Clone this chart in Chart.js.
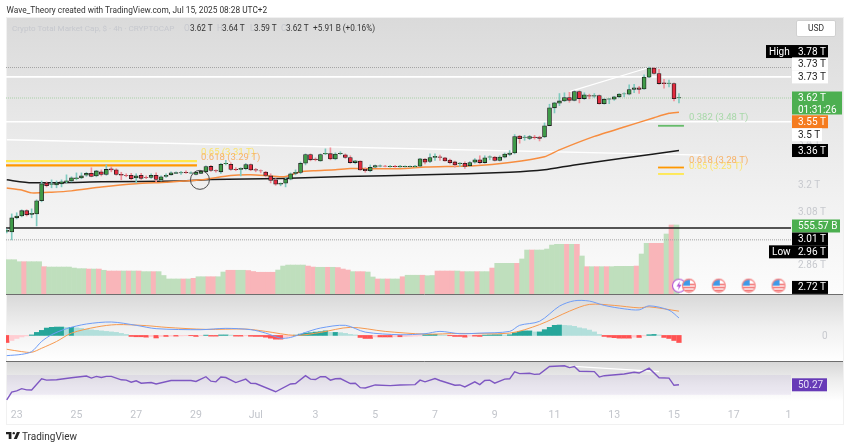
<!DOCTYPE html>
<html>
<head>
<meta charset="utf-8">
<title>Crypto Total Market Cap</title>
<script src="https://cdn.jsdelivr.net/npm/chart.js@4"></script>
<style>
  html, body { margin: 0; padding: 0; background: #fff; width: 850px; height: 447px; overflow: hidden; }
  body { font-family: Roboto, "Liberation Sans", sans-serif; position: relative; filter: blur(0.35px); }
  #chart { position: absolute; left: 0; top: 0; }
  .txt { position: absolute; white-space: nowrap; font-size: 9.5px; line-height: 12px; }
  #byline { left: 6.5px; top: 4px; color: #333; font-size: 8.3px; }
  #legend span { position: absolute; top: 22px; white-space: nowrap; font-size: 8.2px; line-height: 12px; color: #333; }
  #legend .dim { color: #c6c8ce; }
  #usd { left: 796px; top: 20px; width: 38px; height: 15px; line-height: 15px; border: 1px solid #d0d0d0; border-radius: 2px; background: #fff; text-align: center; font-size: 8.5px; color: #333; }
  #brand { left: 22px; top: 431px; font-size: 10px; color: #333; }
  #logo { position: absolute; left: 6px; top: 432px; width: 14px; height: 7px; }
</style>
</head>
<body>
<canvas id="chart" width="850" height="447"></canvas>
<div class="txt" id="byline">Wave_Theory created with TradingView.com, Jul 15, 2025 08:28 UTC+2</div>
<div id="legend">
  <span class="dim" style="left:12px;font-size:8.1px">Crypto Total Market Cap, $ · 4h · CRYPTOCAP</span>
  <span class="dim" style="left:184px">O</span><span style="left:190px">3.62 T</span>
  <span class="dim" style="left:217px">H</span><span style="left:222px">3.64 T</span>
  <span class="dim" style="left:250px">L</span><span style="left:254px">3.59 T</span>
  <span class="dim" style="left:281px">C</span><span style="left:286px">3.62 T</span>
  <span style="left:313px">+5.91 B (+0.16%)</span>
</div>
<div class="txt" id="usd">USD</div>
<svg id="logo" viewBox="0 0 36 18"><path d="M14 0H0v6h7v12h7V0z M28 18H20L28 0h8L28 18z" fill="#222"/><circle cx="20" cy="3" r="3" fill="#222"/></svg>
<div class="txt" id="brand">TradingView</div>
<script>
// 4h candles, index 0 is Jun 23 00:00, values in trillions
const firstIndex = -2;
const opens = [
  2.996,2.993,3.054,3.062,3.085,3.069,3.071,3.129,3.209,3.202,
  3.200,3.205,3.214,3.218,3.228,3.232,3.244,3.253,3.241,3.260,
  3.248,3.274,3.269,3.248,3.244,3.244,3.232,3.244,3.235,3.234,
  3.244,3.223,3.239,3.246,3.253,3.255,3.258,3.254,3.248,3.253,
  3.260,3.285,3.266,3.260,3.298,3.295,3.272,3.271,3.274,3.294,
  3.270,3.265,3.259,3.241,3.223,3.203,3.208,3.226,3.253,3.257,
  3.300,3.341,3.320,3.311,3.344,3.345,3.320,3.345,3.340,3.327,
  3.303,3.310,3.272,3.265,3.281,3.286,3.287,3.284,3.286,3.283,
  3.284,3.284,3.284,3.286,3.319,3.308,3.327,3.330,3.325,3.315,
  3.306,3.298,3.300,3.288,3.305,3.316,3.303,3.328,3.329,3.313,
  3.329,3.341,3.348,3.430,3.423,3.418,3.425,3.425,3.425,3.481,
  3.570,3.593,3.605,3.622,3.608,3.653,3.617,3.633,3.629,3.633,
  3.591,3.614,3.614,3.626,3.641,3.640,3.664,3.672,3.667,3.729,
  3.777,3.748,3.699,3.696,3.695,3.620
];
const highs = [
  3.006,3.071,3.076,3.089,3.089,3.093,3.133,3.218,3.214,3.223,
  3.218,3.223,3.246,3.237,3.255,3.255,3.258,3.279,3.267,3.269,
  3.292,3.283,3.274,3.258,3.251,3.253,3.251,3.253,3.241,3.251,
  3.255,3.241,3.251,3.260,3.260,3.262,3.265,3.260,3.260,3.265,
  3.288,3.290,3.269,3.299,3.313,3.302,3.279,3.279,3.299,3.297,
  3.276,3.269,3.262,3.251,3.228,3.209,3.232,3.255,3.269,3.306,
  3.344,3.344,3.325,3.344,3.368,3.373,3.349,3.354,3.344,3.335,
  3.313,3.311,3.279,3.292,3.292,3.292,3.290,3.290,3.290,3.290,
  3.288,3.288,3.290,3.323,3.322,3.344,3.344,3.338,3.328,3.319,
  3.310,3.303,3.306,3.308,3.322,3.335,3.335,3.335,3.332,3.335,
  3.348,3.360,3.437,3.433,3.433,3.433,3.433,3.429,3.494,3.588,
  3.598,3.643,3.647,3.650,3.657,3.657,3.647,3.640,3.643,3.636,
  3.617,3.618,3.629,3.643,3.647,3.688,3.691,3.681,3.741,3.783,
  3.781,3.770,3.717,3.713,3.699,3.643
];
const lows = [
  2.989,2.960,3.049,3.058,3.062,3.054,3.019,3.124,3.191,3.187,
  3.187,3.191,3.209,3.214,3.223,3.228,3.239,3.237,3.237,3.241,
  3.244,3.260,3.244,3.223,3.237,3.223,3.209,3.225,3.228,3.230,
  3.214,3.218,3.234,3.244,3.251,3.248,3.253,3.251,3.246,3.251,
  3.258,3.262,3.258,3.253,3.292,3.267,3.265,3.241,3.269,3.265,
  3.260,3.255,3.237,3.209,3.198,3.196,3.191,3.223,3.246,3.251,
  3.292,3.311,3.311,3.309,3.340,3.316,3.316,3.340,3.323,3.299,
  3.297,3.267,3.258,3.260,3.279,3.283,3.283,3.281,3.281,3.281,
  3.281,3.281,3.281,3.284,3.297,3.303,3.313,3.313,3.310,3.297,
  3.281,3.285,3.276,3.285,3.300,3.297,3.300,3.316,3.310,3.310,
  3.325,3.335,3.344,3.395,3.409,3.412,3.415,3.406,3.422,3.480,
  3.544,3.581,3.602,3.598,3.605,3.595,3.612,3.616,3.622,3.588,
  3.588,3.591,3.608,3.622,3.626,3.636,3.647,3.643,3.664,3.726,
  3.745,3.691,3.671,3.678,3.605,3.595
];
const closes = [
  3.000,3.054,3.062,3.085,3.067,3.074,3.129,3.205,3.196,3.205,
  3.209,3.214,3.218,3.232,3.232,3.241,3.253,3.239,3.264,3.248,
  3.271,3.269,3.248,3.244,3.243,3.228,3.241,3.230,3.234,3.244,
  3.225,3.237,3.244,3.255,3.256,3.256,3.256,3.255,3.258,3.262,
  3.284,3.266,3.264,3.295,3.300,3.271,3.270,3.276,3.294,3.269,
  3.268,3.264,3.243,3.220,3.203,3.207,3.226,3.251,3.258,3.300,
  3.341,3.316,3.317,3.341,3.347,3.320,3.343,3.347,3.327,3.303,
  3.311,3.269,3.265,3.281,3.289,3.288,3.286,3.286,3.284,3.287,
  3.285,3.285,3.287,3.321,3.305,3.327,3.332,3.327,3.311,3.302,
  3.292,3.301,3.285,3.303,3.316,3.303,3.325,3.330,3.313,3.329,
  3.343,3.348,3.427,3.417,3.425,3.427,3.422,3.418,3.480,3.570,
  3.595,3.605,3.622,3.608,3.653,3.617,3.636,3.629,3.633,3.591,
  3.614,3.616,3.626,3.640,3.642,3.664,3.672,3.664,3.729,3.777,
  3.748,3.695,3.694,3.698,3.616,3.622
];

// smoothed volume in billions, and the candles it is coloured red on
const volumes = [
  276,276,276,260,260,260,260,260,220,217,
  217,217,217,217,209,204,204,201,201,201,
  191,185,185,185,185,185,185,185,180,180,
  180,180,149,121,121,121,121,121,126,139,
  139,139,139,139,177,191,191,191,191,189,
  181,175,175,175,175,193,225,233,233,233,
  233,225,217,215,215,215,215,213,201,193,
  180,180,180,177,137,121,121,121,121,121,
  139,151,151,151,151,147,149,185,185,185,
  185,185,180,180,180,180,180,180,209,247,
  247,247,247,247,282,354,354,354,354,362,
  394,400,400,400,400,400,306,220,220,220,
  220,220,220,223,223,223,223,225,322,408,
  408,408,408,483,555.57,555.57
];
const volumeRed = [2,6,15,17,19,20,21,23,25,28,34,36,39,40,43,44,47,48,49,50,51,52,59,60,63,65,66,67,69,70,73,75,78,82,85,86,87,88,90,93,96,101,104,111,113,115,117,119,125,128,129,130,132];

// moving averages, read at these candle indexes
const emaIndex = [-2,1,3,7,11,17,24,30,37,43,47,51,54,57,60,64,67,77,82,92,99,106,109,116,122,128,131,133];
const emaValues = [3.186,3.177,3.164,3.167,3.173,3.190,3.205,3.212,3.223,3.243,3.246,3.241,3.238,3.260,3.265,3.269,3.275,3.274,3.282,3.288,3.303,3.330,3.363,3.428,3.474,3.520,3.542,3.548];
const smaIndex = [-2,3,17,33,39,53,66,82,99,106,112,122,128,133];
const smaValues = [3.223,3.210,3.214,3.218,3.225,3.229,3.238,3.246,3.258,3.269,3.292,3.324,3.344,3.360];

// MACD panel
const histogram = [
  -7,-5,-3,-1.5,-.5,.5,3,5,7.3,8,
  8.3,8.3,8,8,7.5,7,6,5.5,5,4.5,
  4,3.5,3,2,1,-1,-1.3,-1.3,-1.7,-1,
  -2.5,-1,-1,-.7,-.7,-.5,-.3,-.3,-1,-.3,
  .3,-.7,-.7,.5,.5,.3,-.7,-.7,-.3,-.8,
  -1,-1,-1.7,-2.7,-3.7,-3.7,-2,-1,.3,1.3,
  2.3,2.7,3.3,3.7,4.5,3,3,2.7,2,1,
  .5,-2,-3,-3,-1.5,-1.5,-1.5,-1.5,-1.3,-1.3,
  -1.2,-1,-.7,-.5,.7,1,1,.5,.3,-.3,
  -1,-1,-1.7,-.7,-.7,-1,.3,.5,.7,.7,
  .5,.7,2.7,4,4.5,4.5,3.5,3.5,5.7,8,
  10,10.3,10,9.7,9,7.5,6.7,5.3,3.5,1,
  -1,-1.7,-2.2,-2.7,-2.7,-2.7,-1.7,-2,-.5,.7,
  1,.5,-2,-3,-5,-7
];
const macdIndex = [-2,1,3,5,7,10,14,19,24,28,37,42,47,50,53,55,58,61,66,70,77,82,85,89,93,99,101,105,109,112,115,118,122,125,127,131,133];
const macdValues = [-20,-18.7,-16,-6,.7,6.7,11.3,13.3,10,6.7,5.7,7,5.7,2.3,-2.7,-2,3,7.3,10,3.3,.7,1.7,4,1.7,2.3,4,10,14,29,34.3,34,29.7,26.3,25.3,29.3,25,17.3];
const signalIndex = [-2,1,3,5,8,11,16,20,26,30,38,46,50,56,61,67,74,82,89,99,105,111,115,120,125,127,133];
const signalValues = [-13.7,-16,-16.7,-12.7,-6,2.3,8.3,10.7,9.7,8,6,6.3,4,0,3,8,4,1.3,2,2.3,10.7,24,30.7,29.7,27.3,28.3,24];

// RSI panel
const rsiIndex = [-2,-1,0,1,2,3,5,6,8,11,14,15,16,17,18,19,21,22,23,24,25,27,28,31,35,36,38,39,40,41,42,44,46,47,48,52,55,56,58,59,60,61,62,63,64,65,67,68,69,70,72,75,77,80,81,82,84,85,88,89,90,92,93,94,95,96,98,99,100,101,103,104,105,107,110,111,112,113,116,117,118,122,124,125,127,129,131,132,133];
const rsiValues = [19.6,35.5,38,42.4,40,39.6,62.4,59.7,60.4,64.5,68,63.8,67.3,65,67.3,67.3,60.4,59.7,55.5,58.3,53.5,54.8,52,59,59,57,66.6,57.6,56.2,65.9,65,54.8,61.7,53.5,52.8,36.2,52,52.8,68.7,61.7,61,66.6,66.6,59.7,62.4,63,52.8,53.5,44.5,43.8,50,48.6,50,50.7,59.7,56.2,63,59,49.3,50,45.9,56.2,50.7,59,59.7,53.5,61.7,62.4,76.3,72.8,73.5,71.4,72,87.3,88.7,85,87.3,77.6,77,65.9,68.7,72,75.6,74,83.9,64.5,63.8,49.3,50.27];

// price levels
const resistanceLevel = 3.73;
const supportLevel = 3.5;
const blackLevel = 3.01;
const highLevel = 3.78;
const lowLevel = 2.96;
const lastLevel = 3.62;
const fibLeftValues = [3.31, 3.29];
const fibRightValues = [3.48, 3.28, 3.25];
const fallingTrendIndex = [-2, 138];
const fallingTrendValues = [3.412, 3.338];
const risingTrendIndex = [111, 127];
const risingTrendValues = [3.653, 3.78];
const rsiTrendIndex = [111, 129];
const rsiTrendValues = [88, 77];
const markerIndex = [36.8];
const markerValues = [3.223];
const eventIndex = [135, 141, 147, 153];
const eventValues = [67, 67, 67, 67];
const splitIndex = [133];
const splitValues = [67];

const xTicks = [0,12,24,36,48,60,72,84,96,108,120,132,144,155];
const xLabels = ['23','25','27','29','Jul','3','5','7','9','11','13','15','17','1'];
const priceTickValues = [3.2, 3.08, 2.86, 3.4];
const priceTickLabels = ['3.2 T', '3.08 T', '2.86 T', '3.4 T'];

const X_MIN = -2.15, X_MAX = 155.5;
const PANE_RIGHT = 843, FRAME_BOTTOM = 424;
const FONT = 'Roboto, "Liberation Sans", sans-serif';
const UP = '#3f9b49', DOWN = '#e32b3e', UP_WICK = '#7fcabf', DOWN_WICK = '#f2919a';

const candleIndex = opens.map((_, i) => i + firstIndex);

function points(xs, ys) {
  return xs.map((x, i) => ({ x, y: ys[i] }));
}

function lineSet(xs, ys, yAxisID, color, width, order, extra) {
  return Object.assign({
    type: 'line', data: points(xs, ys), yAxisID, borderColor: color, borderWidth: width,
    pointRadius: 0, fill: false, tension: 0, order
  }, extra || {});
}

function levelSet(value, color, width, order, dash) {
  return lineSet([X_MIN, X_MAX], [value, value], 'y', color, width, order, { borderDash: dash || [] });
}

function flagIcon() {
  const c = document.createElement('canvas');
  c.width = 16; c.height = 16;
  const g = c.getContext('2d');
  g.beginPath(); g.arc(8, 8, 6.5, 0, Math.PI * 2);
  g.fillStyle = '#fff'; g.fill();
  g.save(); g.clip();
  g.fillStyle = '#f26b6b';
  g.fillRect(1, 9, 14, 1.5); g.fillRect(1, 12, 14, 1.5);
  g.fillRect(8, 6, 7, 1.5);
  g.fillStyle = '#3f9ae8';
  g.fillRect(1, 1, 8, 7);
  g.restore();
  g.lineWidth = 1.3; g.strokeStyle = '#f58a8a'; g.stroke();
  return c;
}

function splitIcon() {
  const c = document.createElement('canvas');
  c.width = 16; c.height = 16;
  const g = c.getContext('2d');
  g.beginPath(); g.arc(8, 8, 6.5, 0, Math.PI * 2);
  g.fillStyle = '#fff'; g.fill();
  g.lineWidth = 1.1; g.strokeStyle = '#b455d6'; g.stroke();
  g.beginPath();
  g.moveTo(9, 3.5); g.lineTo(5.5, 8.8); g.lineTo(7.8, 8.8); g.lineTo(7, 12.5); g.lineTo(10.5, 7); g.lineTo(8.2, 7);
  g.closePath();
  g.fillStyle = '#b455d6'; g.fill();
  return c;
}

const paneFills = [
  { axis: 'y', stops: ['#dadada', '#ececec', '#fcfcfc'] },
  { axis: 'yMacd', stops: ['#d8d8d8', '#f0f0f0', '#ffffff'] },
  { axis: 'yRsi', stops: ['#d6d6d6', '#eeeeee', '#ffffff'] }
];

const panePlugin = {
  id: 'panes',
  beforeDraw(chart) {
    const ctx = chart.ctx;
    const left = chart.chartArea.left;
    ctx.save();
    paneFills.forEach(p => {
      const s = chart.scales[p.axis];
      const g = ctx.createLinearGradient(0, s.top, 0, s.bottom);
      g.addColorStop(0, p.stops[0]);
      g.addColorStop(0.5, p.stops[1]);
      g.addColorStop(1, p.stops[2]);
      ctx.fillStyle = g;
      ctx.fillRect(left, s.top, PANE_RIGHT - left, s.bottom - s.top);
    });
    const rsi = chart.scales.yRsi;
    ctx.fillStyle = 'rgba(126,87,194,0.09)';
    ctx.fillRect(left, rsi.getPixelForValue(70), chart.chartArea.width, rsi.getPixelForValue(30) - rsi.getPixelForValue(70));
    ctx.strokeStyle = '#f1f1f1';
    ctx.strokeRect(left + 0.5, chart.chartArea.top + 0.5, PANE_RIGHT - left, FRAME_BOTTOM - chart.chartArea.top);
    ctx.restore();
  },
  afterDraw(chart) {
    const ctx = chart.ctx;
    ctx.save();
    ctx.strokeStyle = '#6d6d6d';
    ctx.lineWidth = 1;
    ['yMacd', 'yRsi'].forEach(id => {
      const y = Math.round(chart.scales[id].top) + 0.5;
      ctx.beginPath();
      ctx.moveTo(chart.chartArea.left, y);
      ctx.lineTo(PANE_RIGHT, y);
      ctx.stroke();
    });
    ctx.restore();
  }
};

// value tags in the right hand column, dy moves a tag off its price like the real axis does
const tags = [
  { axis: 'y', value: highLevel, dy: -16, text: '3.78 T', bg: '#000', fg: '#fff', side: 'High' },
  { axis: 'y', value: resistanceLevel, dy: -13, text: '3.73 T', bg: '#fff', fg: '#222' },
  { axis: 'y', value: resistanceLevel, dy: 0, text: '3.73 T', bg: '#fff', fg: '#222' },
  { axis: 'y', value: 3.55, dy: 10, text: '3.55 T', bg: '#f57c1f', fg: '#fff' },
  { axis: 'y', value: supportLevel, dy: 13, text: '3.5 T', bg: '#fff', fg: '#222', w: 30 },
  { axis: 'y', value: 3.36, dy: 0, text: '3.36 T', bg: '#000', fg: '#fff' },
  { axis: 'y', value: lastLevel, dy: 0, text: '3.62 T', bg: '#4caf50', fg: '#fff', w: 50, sub: '01:31:26' },
  { axis: 'yVol', value: 555.57, dy: 1, text: '555.57 B', bg: '#4caf50', fg: '#fff', w: 48 },
  { axis: 'y', value: blackLevel, dy: 11, text: '3.01 T', bg: '#000', fg: '#fff' },
  { axis: 'y', value: lowLevel, dy: 12, text: '2.96 T', bg: '#000', fg: '#fff', side: 'Low' },
  { axis: 'y', value: 2.72, dy: -12, text: '2.72 T', bg: '#000', fg: '#fff' },
  { axis: 'yRsi', value: 50.27, dy: 0, text: '50.27', bg: '#673ab7', fg: '#e8e0f8', w: 35 }
];

const fibLabels = [
  { at: 37, value: 3.31, dy: -8, text: '0.65 (3.31 T)', color: '#fbe36b' },
  { at: 37, value: 3.29, dy: -8, text: '0.618 (3.29 T)', color: '#f7b267' },
  { at: 135, value: 3.48, dy: -8, text: '0.382 (3.48 T)', color: '#a7d8a8' },
  { at: 135, value: 3.25, dy: -7, text: '0.65 (3.25 T)', color: '#fbe36b' },
  { at: 135, value: 3.28, dy: -7, text: '0.618 (3.28 T)', color: '#f7b267' }
];

const labelPlugin = {
  id: 'labels',
  afterDraw(chart) {
    const ctx = chart.ctx;
    const x0 = chart.chartArea.right + 1;
    ctx.save();
    ctx.textBaseline = 'middle';
    ctx.textAlign = 'left';

    ctx.font = '9.5px ' + FONT;
    fibLabels.forEach(f => {
      ctx.fillStyle = f.color;
      ctx.fillText(f.text, chart.scales.x.getPixelForValue(f.at), chart.scales.y.getPixelForValue(f.value) + f.dy);
    });

    ctx.font = '10px ' + FONT;
    ctx.fillStyle = '#c7c9ce';
    priceTickValues.forEach((v, i) => {
      ctx.fillText(priceTickLabels[i], x0 + 6, chart.scales.y.getPixelForValue(v) + 1);
    });
    ctx.fillText('0', x0 + 30, chart.scales.yMacd.getPixelForValue(0) + 1);

    tags.forEach(t => {
      const y = chart.scales[t.axis].getPixelForValue(t.value) + t.dy;
      const w = t.w || 36;
      const h = t.sub ? 23 : 13;
      const top = y - 6.5;
      ctx.fillStyle = t.bg;
      ctx.fillRect(x0, top, w, h);
      if (t.side) {
        const sw = t.side === 'High' ? 26 : 23;
        ctx.fillRect(x0 - sw, top, sw, h);
        ctx.fillStyle = t.fg;
        ctx.fillText(t.side, x0 - sw + 3, y + 0.5);
      }
      ctx.fillStyle = t.fg;
      ctx.fillText(t.text, x0 + 6, y + 0.5);
      if (t.sub) ctx.fillText(t.sub, x0 + 6, y + 12.5);
    });
    ctx.restore();
  }
};

function histColor(value, i) {
  const prev = i > 0 ? histogram[i - 1] : value;
  if (value >= 0) return value >= prev ? '#26a69a' : '#b2dfdb';
  return value <= prev ? '#ff5252' : '#ffcdd2';
}

new Chart(document.getElementById('chart').getContext('2d'), {
  type: 'bar',
  data: {
    datasets: [
      {
        data: candleIndex.map((x, i) => ({ x, y: [opens[i], closes[i]] })),
        yAxisID: 'y', barThickness: 4, borderWidth: 0.8, borderSkipped: false, borderColor: '#1c1c1c',
        backgroundColor: opens.map((o, i) => closes[i] < o ? DOWN : UP), order: 1
      },
      {
        data: candleIndex.map((x, i) => ({ x, y: [lows[i], highs[i]] })),
        yAxisID: 'y', barThickness: 1,
        backgroundColor: opens.map((o, i) => closes[i] < o ? DOWN_WICK : UP_WICK), order: 2
      },
      lineSet(emaIndex, emaValues, 'y', '#f78d3f', 1.5, 3, { tension: 0.2 }),
      lineSet(smaIndex, smaValues, 'y', '#1a1a1a', 1.5, 4, { tension: 0.2 }),
      levelSet(resistanceLevel, '#ffffff', 1.6, 10),
      levelSet(supportLevel, '#ffffff', 1.6, 10),
      levelSet(blackLevel, '#1f1f1f', 1.5, 6),
      levelSet(highLevel, '#a4a4a4', 1, 10, [1, 1]),
      levelSet(lowLevel, '#a4a4a4', 1, 10, [1, 1]),
      levelSet(lastLevel, '#a8cfa8', 1, 10, [1, 1]),
      lineSet(fallingTrendIndex, fallingTrendValues, 'y', '#ffffff', 1.4, 10),
      lineSet(risingTrendIndex, risingTrendValues, 'y', '#ffffff', 1.2, 10),
      lineSet([X_MIN, 36.2], [fibLeftValues[0], fibLeftValues[0]], 'y', '#ffe84d', 2.4, 7),
      lineSet([X_MIN, 36.2], [fibLeftValues[1], fibLeftValues[1]], 'y', '#ff9800', 2.4, 7),
      lineSet([128.8, 134], [fibRightValues[0], fibRightValues[0]], 'y', '#66bb6a', 1.8, 7),
      lineSet([128.8, 134], [fibRightValues[1], fibRightValues[1]], 'y', '#ff9800', 1.8, 7),
      lineSet([128.8, 134], [fibRightValues[2], fibRightValues[2]], 'y', '#ffe84d', 1.8, 7),
      {
        type: 'scatter', data: points(markerIndex, markerValues), yAxisID: 'y', pointRadius: 9.5,
        pointBackgroundColor: 'transparent', pointBorderColor: '#4a4a4a', pointBorderWidth: 1, order: 0
      },
      {
        data: candleIndex.map((x, i) => ({ x: x - 0.5, y: volumes[i] })),
        yAxisID: 'yVol', barThickness: 5,
        backgroundColor: candleIndex.map(x => volumeRed.includes(x) ? '#f9b5b9' : '#bfdfbd'), order: 20
      },
      {
        type: 'scatter', data: points(splitIndex, splitValues), yAxisID: 'yVol',
        pointStyle: splitIcon(), pointRadius: 8, order: 0
      },
      {
        type: 'scatter', data: points(eventIndex, eventValues), yAxisID: 'yVol',
        pointStyle: flagIcon(), pointRadius: 8, order: -1
      },
      {
        data: candleIndex.map((x, i) => ({ x, y: histogram[i] })),
        yAxisID: 'yMacd', barThickness: 4.6,
        backgroundColor: histogram.map(histColor), order: 9
      },
      lineSet(macdIndex, macdValues, 'yMacd', '#6f9df7', 1, 5, { tension: 0.3 }),
      lineSet(signalIndex, signalValues, 'yMacd', '#f79a4f', 1, 5, { tension: 0.3 }),
      lineSet(rsiIndex, rsiValues, 'yRsi', '#7e57c2', 1.4, 5),
      lineSet(rsiTrendIndex, rsiTrendValues, 'yRsi', '#ffffff', 1.2, 6)
    ]
  },
  options: {
    responsive: false,
    animation: false,
    devicePixelRatio: 1,
    layout: { autoPadding: false, padding: { left: 6, right: 59, top: 17, bottom: 0 } },
    plugins: { legend: { display: false }, tooltip: { enabled: false } },
    datasets: { bar: { grouped: false } },
    scales: {
      x: {
        type: 'linear', min: X_MIN, max: X_MAX, offset: false, bounds: 'data',
        grid: { display: false }, border: { display: false },
        afterBuildTicks(s) { s.ticks = xTicks.map(value => ({ value })); },
        afterFit(s) { s.height = 46; },
        ticks: {
          autoSkip: false, maxRotation: 0, padding: 0, color: '#c2c5cb',
          font: { family: FONT, size: 10.5 },
          callback: (v, i) => xLabels[i]
        }
      },
      y: paneAxis({ type: 'logarithmic', min: 2.741, max: 4.061, stack: 'panes', stackWeight: 277, weight: 1 }),
      yMacd: paneAxis({ type: 'linear', min: -25.3, max: 41, stack: 'panes', stackWeight: 67, weight: 2 }),
      yRsi: paneAxis({ type: 'linear', min: 17.5, max: 98.4, stack: 'panes', stackWeight: 40, weight: 3 }),
      yVol: paneAxis({ type: 'linear', min: 0, max: 2230, stack: 'volume', stackWeight: 277, weight: 4 }),
      yVolRest: paneAxis({ type: 'linear', min: 0, max: 1, stack: 'volume', stackWeight: 107, weight: 5 })
    }
  },
  plugins: [panePlugin, labelPlugin]
});

function paneAxis(opts) {
  return Object.assign({
    position: 'right', bounds: 'data', display: true,
    grid: { display: false }, border: { display: false },
    ticks: { display: false },
    afterFit(s) { s.width = 0; }
  }, opts);
}
</script>
</body>
</html>
